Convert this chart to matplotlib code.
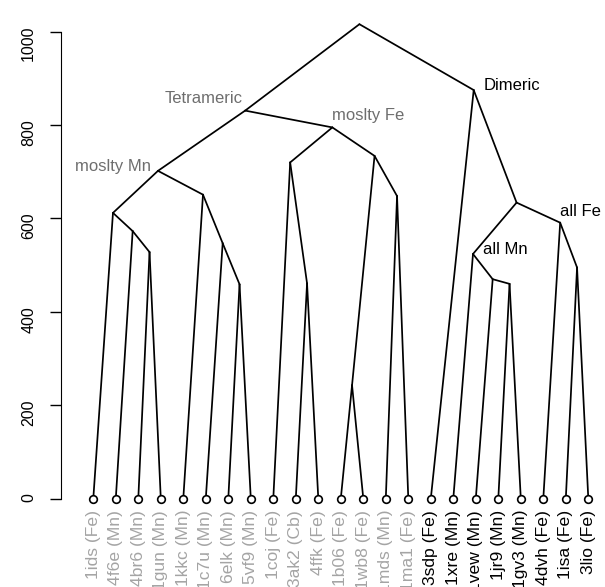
import matplotlib
matplotlib.use("Agg")
import matplotlib.pyplot as plt

plt.rcParams['font.family'] = ['Liberation Sans', 'DejaVu Sans']

# leaves in plotting order (1-based in merges, R hclust style)
leaves = ["1ids (Fe)", "4f6e (Mn)", "4br6 (Mn)", "1gun (Mn)", "1kkc (Mn)",
          "1c7u (Mn)", "6elk (Mn)", "5vf9 (Mn)", "1coj (Fe)", "3ak2 (Cb)",
          "4ffk (Fe)", "1b06 (Fe)", "1wb8 (Fe)", "1mds (Mn)", "1ma1 (Fe)",
          "3sdp (Fe)", "1xre (Mn)", "1vew (Mn)", "1jr9 (Mn)", "1gv3 (Mn)",
          "4dvh (Fe)", "1isa (Fe)", "3lio (Fe)"]
n_gray = 15  # tetrameric leaves shown in grey

# negative = leaf, positive = earlier merge
merge = [(-12, -13), (-7, -8), (-19, -20), (-10, -11), (-18, 3), (-22, -23),
         (-17, 5), (-3, -4), (-6, 2), (-2, 8), (-21, 6), (-1, 10), (7, 11),
         (-14, -15), (-5, 9), (12, 15), (-9, 4), (1, 14), (17, 18), (16, 19),
         (-16, 13), (20, 21)]
heights = [243, 459, 460, 461, 470, 495, 524, 528, 547, 573, 591, 612, 634,
           648, 651, 702, 720, 734, 795, 831, 875, 1016]

# clade labels: merge number, text
clades = [16, 20, 19, 21, 7, 11]
clade_text = ["moslty Mn", "Tetrameric", "moslty Fe", "Dimeric", "all Mn", "all Fe"]

fig = plt.figure(figsize=(6.05, 5.87), dpi=100)
ax = fig.add_axes([0.1356, 0.1266, 0.8554, 0.8592])

pos = {}
def node_xy(k):
    if k < 0:
        return (-k, 0)
    if k not in pos:
        a, b = merge[k - 1]
        xa = node_xy(a)[0]
        xb = node_xy(b)[0]
        pos[k] = ((xa + xb) / 2, heights[k - 1])
    return pos[k]

for k in range(1, len(merge) + 1):
    x, h = node_xy(k)
    for c in merge[k - 1]:
        cx, ch = node_xy(c)
        ax.plot([x, cx], [h, ch], color='black', lw=1.25, solid_capstyle='round')

xs = range(1, len(leaves) + 1)
ax.plot(xs, [0] * len(leaves), 'o', ms=5.5, mfc='white', mec='black', mew=1.2,
        ls='none', zorder=3)
for i, lab in enumerate(leaves):
    col = '#a4a4a4' if i < n_gray else 'black'
    ax.annotate(lab, (i + 1, 0), xytext=(0, -8), textcoords='offset points',
                rotation=90, ha='center', va='top', fontsize=12.6, color=col,
                annotation_clip=False)

# offsets (points) and colours for clade labels
lab_style = {
    "moslty Mn": ((-5, 0), 'right', 'baseline', '#6e6e6e'),
    "Tetrameric": ((-2, 3), 'right', 'bottom', '#6e6e6e'),
    "moslty Fe": ((0, 3), 'left', 'bottom', '#6e6e6e'),
    "Dimeric": ((7, 0), 'left', 'baseline', 'black'),
    "all Mn": ((7, 0), 'left', 'baseline', 'black'),
    "all Fe": ((0, 5), 'left', 'baseline', 'black'),
}
for k, t in zip(clades, clade_text):
    off, ha, va, col = lab_style[t]
    ax.annotate(t, node_xy(k), xytext=off, textcoords='offset points',
                ha=ha, va=va, fontsize=12, color=col, annotation_clip=False)

ax.set_xlim(0.5, 23.5)
ax.set_ylim(-30, 1050)
ax.set_xticks([])
ax.set_yticks([0, 200, 400, 600, 800, 1000])
ax.tick_params(axis='y', length=8, width=1, pad=10, labelsize=11.5, labelrotation=90)
for lab in ax.get_yticklabels():
    lab.set_va('center')
for s in ['top', 'right', 'bottom']:
    ax.spines[s].set_visible(False)
ax.spines['left'].set_position(('outward', 15))
ax.spines['left'].set_bounds(0, 1000)

fig.savefig('out.png', dpi=100)
